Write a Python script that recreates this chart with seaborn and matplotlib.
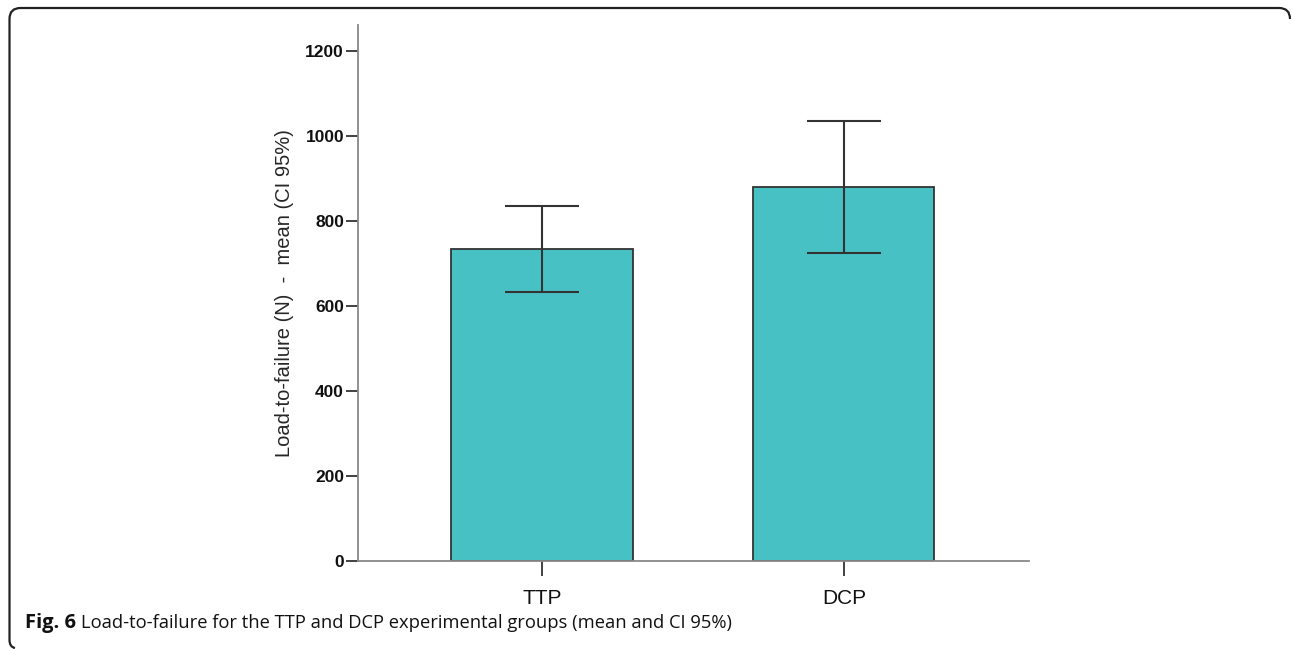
import matplotlib
matplotlib.use("Agg")
import matplotlib.pyplot as plt
import seaborn as sns
import pandas as pd
import numpy as np
from matplotlib.path import Path
from matplotlib.patches import PathPatch

# ---- data ----
groups = ["TTP", "DCP"]
means = [734, 880]
ci_low = [633, 725]
ci_high = [835, 1035]
yticks = [0, 200, 400, 600, 800, 1000, 1200]

df = pd.DataFrame({"group": groups, "load": means})

sns.set_theme(style="white")
plt.rcParams["font.family"] = ["Liberation Sans", "DejaVu Sans"]

W, H = 1292, 649
fig = plt.figure(figsize=(W / 100, H / 100), dpi=100)
ax = fig.add_axes([358 / W, 1 - 561 / H, (1029 - 358) / W, (561 - 25) / H])

sns.barplot(data=df, x="group", y="load", order=groups, color="#48C1C5",
            saturation=1, width=0.6, edgecolor="#333333", linewidth=1.3,
            errorbar=None, ax=ax)

x = np.arange(len(groups))
yerr = [np.array(means) - np.array(ci_low), np.array(ci_high) - np.array(means)]
ax.errorbar(x, means, yerr=yerr, fmt="none", ecolor="#333333", elinewidth=1.5,
            capsize=26.5, capthick=1.5, zorder=5)

ax.set_xlim(-0.609, 1.613)
ax.set_ylim(0, 1261)
ax.set_yticks(yticks)
ax.set_yticklabels([str(v) for v in yticks], fontweight="bold", fontsize=12.5)
ax.set_xticks(x)
ax.set_xticklabels(groups, fontsize=15)
ax.set_xlabel("")
ax.set_ylabel("Load-to-failure (N)  -  mean (CI 95%)", fontsize=14.5, labelpad=8)

for s in ["top", "right"]:
    ax.spines[s].set_visible(False)
for s in ["left", "bottom"]:
    ax.spines[s].set_color("#888888")
    ax.spines[s].set_linewidth(1.3)

ax.tick_params(axis="y", direction="out", length=9, width=1.3, color="#333333",
               pad=1, left=True, labelcolor="#111111")
ax.tick_params(axis="x", direction="out", length=11, width=1.3, color="#333333",
               pad=9, bottom=True, labelcolor="#111111")
ax.grid(False)

# ---- frame (rounded partial border) ----
def fx(px):
    return px / W

def fy(py):
    return 1 - py / H

r = 11
verts = [
    (fx(1290), fy(8 + r)),
    (fx(1290), fy(8)), (fx(1290 - r), fy(8)),
    (fx(9.5 + r), fy(8)),
    (fx(9.5), fy(8)), (fx(9.5), fy(8 + r)),
    (fx(9.5), fy(640)),
    (fx(9.5), fy(647)), (fx(15), fy(648)),
]
codes = [Path.MOVETO, Path.CURVE3, Path.CURVE3, Path.LINETO,
         Path.CURVE3, Path.CURVE3, Path.LINETO, Path.CURVE3, Path.CURVE3]
frame = PathPatch(Path(verts, codes), transform=fig.transFigure, fill=False,
                  edgecolor="#222222", linewidth=1.6)
fig.add_artist(frame)

# ---- caption ----
cap_y = fy(628)
t1 = fig.text(fx(25), cap_y, "Fig. 6", fontsize=14.5, fontweight="bold",
              family=["Open Sans", "DejaVu Sans"], color="#111111", va="baseline")
fig.canvas.draw()
bb = t1.get_window_extent(renderer=fig.canvas.get_renderer())
fig.text(bb.x1 / W + 5 / W, cap_y,
         "Load-to-failure for the TTP and DCP experimental groups (mean and CI 95%)",
         fontsize=13.2, family=["Open Sans", "DejaVu Sans"], color="#111111",
         va="baseline")

fig.savefig("out.png", dpi=100, facecolor="white")
